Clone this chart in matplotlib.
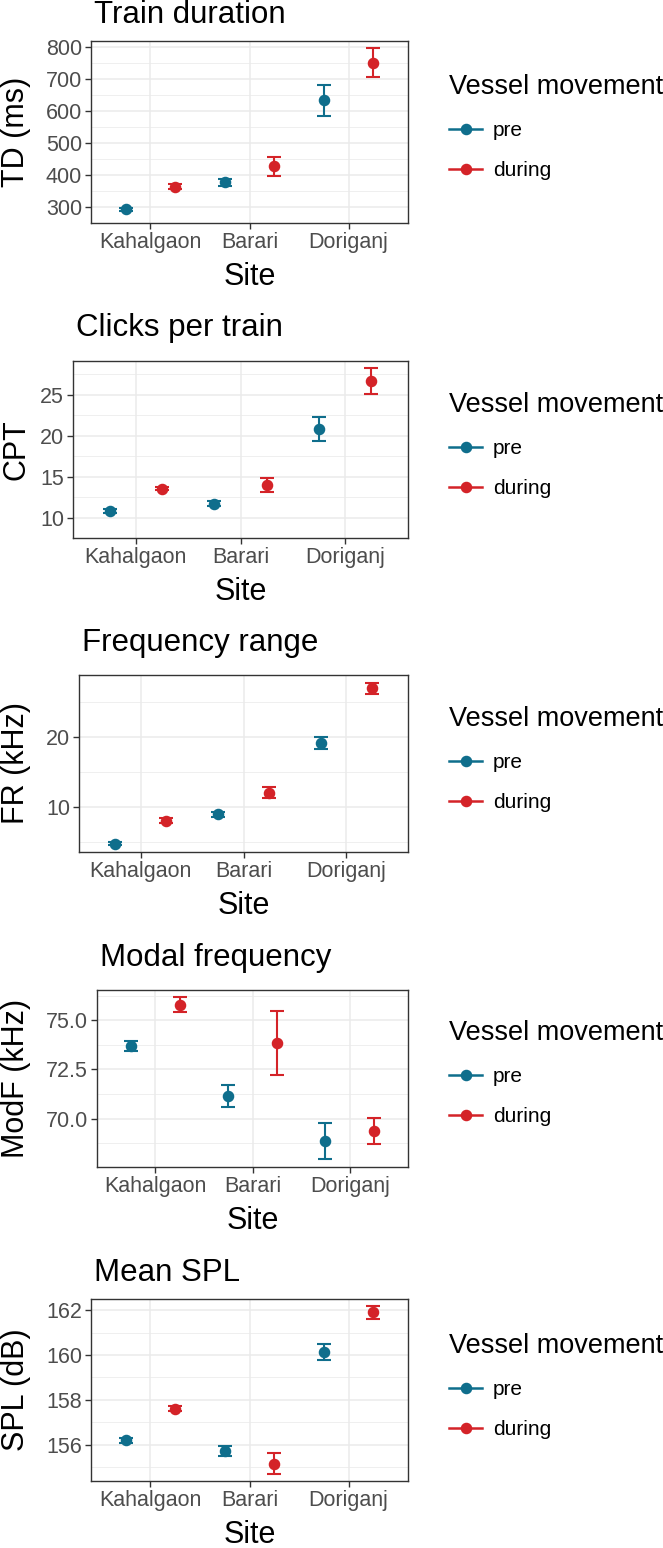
import numpy as np
import matplotlib
matplotlib.use("Agg")
import matplotlib.pyplot as plt
from matplotlib.lines import Line2D

plt.rcParams["font.family"] = ["Liberation Sans", "DejaVu Sans"]

# data
sites = ["Kahalgaon", "Barari", "Doriganj"]
groups = ["pre", "during"]
colors = {"pre": "#0F6E8C", "during": "#D42328"}

titles = ["Train duration", "Clicks per train", "Frequency range", "Modal frequency", "Mean SPL"]
ylabels = ["TD (ms)", "CPT", "FR (kHz)", "ModF (kHz)", "SPL (dB)"]

td_pre = [293, 377, 634]
td_pre_err = [5, 10, 49]
td_dur = [363, 427, 752]
td_dur_err = [8, 31, 46]

cpt_pre = [10.8, 11.7, 20.8]
cpt_pre_err = [0.2, 0.35, 1.5]
cpt_dur = [13.5, 14.0, 26.7]
cpt_dur_err = [0.2, 0.85, 1.6]

fr_pre = [4.8, 9.0, 19.2]
fr_pre_err = [0.25, 0.35, 0.85]
fr_dur = [8.1, 12.1, 27.0]
fr_dur_err = [0.3, 0.85, 0.8]

modf_pre = [73.7, 71.15, 68.85]
modf_pre_err = [0.24, 0.56, 0.91]
modf_dur = [75.8, 73.85, 69.37]
modf_dur_err = [0.38, 1.63, 0.68]

spl_pre = [156.18, 155.7, 160.13]
spl_pre_err = [0.1, 0.22, 0.36]
spl_dur = [157.6, 155.15, 161.9]
spl_dur_err = [0.1, 0.45, 0.28]

panels = [
    (td_pre, td_pre_err, td_dur, td_dur_err),
    (cpt_pre, cpt_pre_err, cpt_dur, cpt_dur_err),
    (fr_pre, fr_pre_err, fr_dur, fr_dur_err),
    (modf_pre, modf_pre_err, modf_dur, modf_dur_err),
    (spl_pre, spl_pre_err, spl_dur, spl_dur_err),
]

ylims = [(267.5, 820), (9.9, 29.1), (3.6, 28.9), (67.53, 76.55), (154.37, 162.5)]
major_ticks = [
    [300, 400, 500, 600, 700, 800],
    [10, 15, 20, 25],
    [10, 20],
    [70.0, 72.5, 75.0],
    [156, 158, 160, 162],
]
tick_fmt = ["{:.0f}", "{:.0f}", "{:.0f}", "{:.1f}", "{:.0f}"]

# layout in pixels: left, top, bottom of each panel
W, H = 663, 1548
boxes = [(91, 41, 223), (73, 361, 538), (79, 675, 852), (97, 990, 1167), (91, 1299, 1481)]
right = 408
title_y = [15, 328, 643, 958, 1273]
legend_y = [127, 445, 759, 1073, 1386]

fig = plt.figure(figsize=(W / 100, H / 100), dpi=100)

for i, (pre, pre_e, dur, dur_e) in enumerate(panels):
    l, t, b = boxes[i]
    ax = fig.add_axes([l / W, 1 - b / H, (right - l) / W, (b - t) / H])
    x = np.arange(len(sites))
    for g, vals, errs, off in [("pre", pre, pre_e, -0.25), ("during", dur, dur_e, 0.25)]:
        ax.errorbar(x + off, vals, yerr=errs, fmt="o", color=colors[g], ms=7.3,
                    elinewidth=1.5, capsize=4.7, capthick=1.5, zorder=3)
    ax.set_xlim(-0.6, 2.6)
    ax.set_ylim(*ylims[i])
    ax.set_xticks(x)
    ax.set_xticklabels(sites)
    mt = major_ticks[i]
    ax.set_yticks(mt)
    ax.set_yticklabels([tick_fmt[i].format(v) for v in mt])
    step = mt[1] - mt[0]
    minors = np.arange(mt[0] - step / 2, ylims[i][1], step)
    ax.set_yticks(minors, minor=True)
    ax.tick_params(axis="y", which="minor", length=0)
    ax.grid(True, which="major", color="#EBEBEB", lw=1.1, zorder=0)
    ax.grid(True, which="minor", axis="y", color="#EBEBEB", lw=0.55, zorder=0)
    ax.set_axisbelow(True)
    ax.tick_params(which="major", length=4, width=1, color="#333333",
                   labelcolor="#4D4D4D", labelsize=15.5, pad=2.5)
    for s in ax.spines.values():
        s.set_color("#333333")
        s.set_linewidth(1)
    ax.set_xlabel("Site", fontsize=22, va="center")
    ax.xaxis.set_label_coords(0.5, -54 / (b - t))
    ax.set_ylabel(ylabels[i], fontsize=22, va="center")
    ax.yaxis.set_label_coords((16 - l) / (right - l), 0.5)
    fig.text((l + 3) / W, 1 - title_y[i] / H, titles[i], fontsize=22.5, va="center", ha="left")

    handles = [Line2D([], [], color=colors[g], marker="o", ms=7.3, lw=1.8) for g in groups]
    leg = fig.legend(handles, groups, loc="center left", bbox_to_anchor=(449 / W, 1 - legend_y[i] / H),
                     frameon=False, title="Vessel movement", title_fontsize=19.5, fontsize=15,
                     handlelength=1.6, handletextpad=0.5, labelspacing=1.0, borderpad=0,
                     borderaxespad=0, alignment="left")

fig.savefig("out.png", dpi=100)
